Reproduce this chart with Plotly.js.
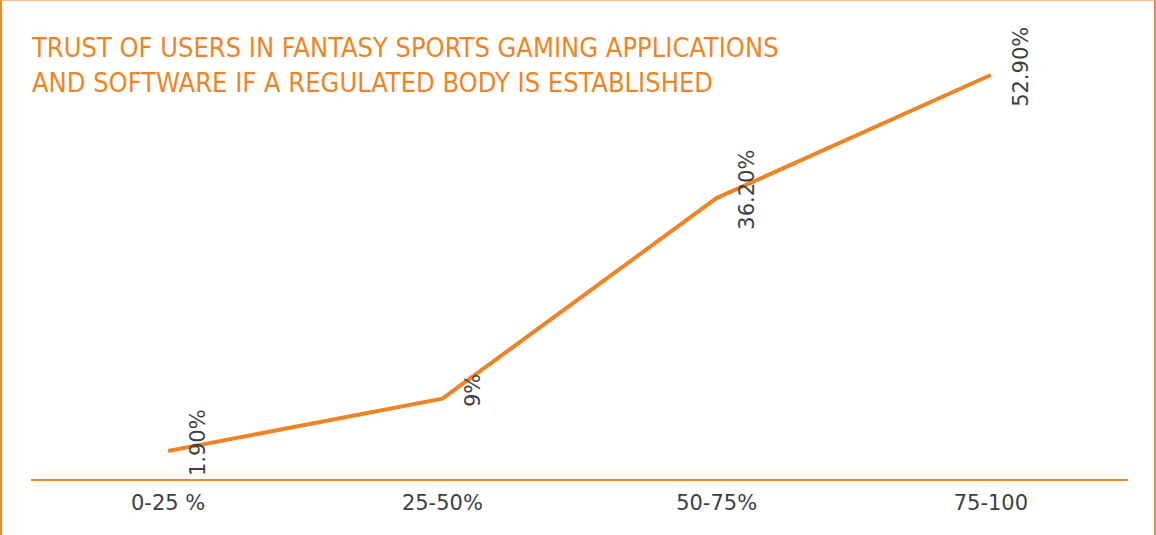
<!DOCTYPE html>
<html>
<head>
<meta charset="utf-8">
<script src="https://cdn.plot.ly/plotly-3.0.1.min.js"></script>
<style>
  html, body { margin: 0; padding: 0; background: #fff; }
  #wrap { position: relative; width: 1156px; height: 535px; overflow: hidden; }
  #chart { width: 1156px; height: 535px; }
  #frame {
    position: absolute; left: 0; top: 0; width: 1152px; height: 540px;
    border-top: 1px solid #F6BE86;
    border-left: 2px solid #EF8A2C;
    border-right: 2px solid #EF8A2C;
    pointer-events: none;
  }
</style>
</head>
<body>
<div id="wrap">
  <div id="chart"></div>
  <div id="frame"></div>
</div>
<script>
// chart data
const categories = ["0-25 %", "25-50%", "50-75%", "75-100"];
const trustValues = [1.9, 9, 36.2, 52.9];
const valueLabels = ["1.90%", "9%", "36.20%", "52.90%"];

const orange = "#EF8425";
const textGray = "#404040";

const trace = {
  x: categories,
  y: trustValues,
  type: "scatter",
  mode: "lines",
  line: { color: orange, width: 4 },
  hoverinfo: "skip"
};

// rotated value labels next to each point
const labelNotes = categories.map((c, i) => ({
  x: c,
  y: trustValues[i],
  xref: "x",
  yref: "y",
  text: valueLabels[i],
  showarrow: false,
  textangle: -90,
  xshift: 30,
  yshift: 8,
  font: { family: "DejaVu Sans", size: 21, color: textGray }
}));

const layout = {
  width: 1156,
  height: 535,
  margin: { l: 31, r: 28, t: 30, b: 56 },
  paper_bgcolor: "#fff",
  plot_bgcolor: "#fff",
  showlegend: false,
  title: {
    text: "TRUST OF USERS IN FANTASY SPORTS GAMING APPLICATIONS<br>AND SOFTWARE IF A REGULATED BODY IS ESTABLISHED",
    x: 32 / 1156,
    xref: "container",
    xanchor: "left",
    y: 1 - 57 / 535,
    yref: "container",
    yanchor: "top",
    font: { family: "DejaVu Sans Condensed, DejaVu Sans", stretch: "condensed", size: 27, color: orange }
  },
  xaxis: {
    type: "category",
    range: [-0.5, 3.5],
    showgrid: false,
    zeroline: false,
    showline: true,
    linecolor: orange,
    linewidth: 2,
    ticks: "",
    ticklabelstandoff: 4,
    tickfont: { family: "DejaVu Sans", size: 21, color: textGray },
    fixedrange: true
  },
  yaxis: {
    range: [-1.9, 59.0],
    showgrid: false,
    zeroline: false,
    showline: false,
    showticklabels: false,
    ticks: "",
    fixedrange: true
  },
  annotations: labelNotes
};

Plotly.newPlot("chart", [trace], layout, { displayModeBar: false, staticPlot: true });
</script>
</body>
</html>
